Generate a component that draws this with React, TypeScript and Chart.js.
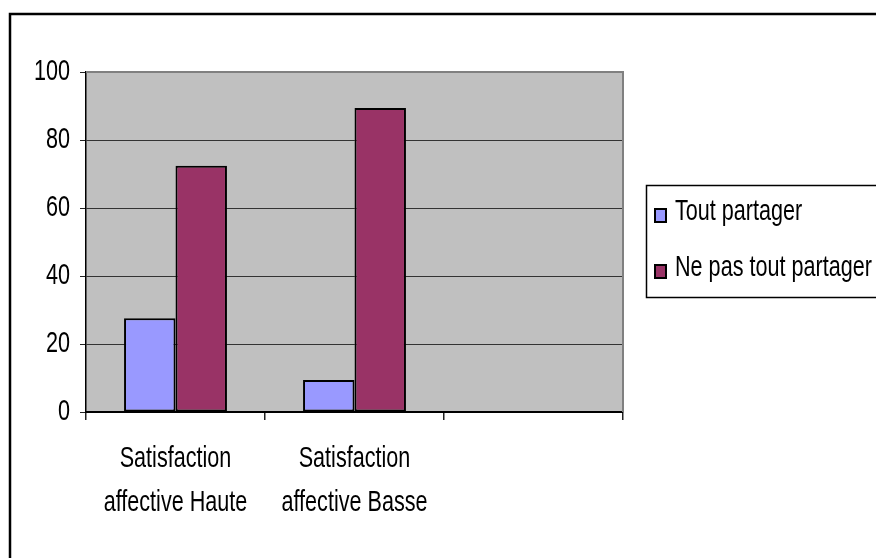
import React, { useEffect, useRef } from "react";
import { Chart, registerables } from "chart.js";

Chart.register(...registerables);

const categories: (string | string[])[] = [
  ["Satisfaction", "affective Haute"],
  ["Satisfaction", "affective Basse"],
  "",
];
const toutPartager = [27.6, 9.4, null];
const nePasToutPartager = [72.4, 89.4, null];
const yTicks = [0, 20, 40, 60, 80, 100];

const FONT = "'Liberation Sans', Arial, sans-serif";
// Narrow lettering: glyphs are squeezed horizontally around their anchor point.
const TEXT_SCALE_X = 0.72;

const narrowText = {
  id: "narrowText",
  beforeInit(chart: any) {
    const ctx = chart.ctx;
    if (ctx.__narrow) return;
    const orig = ctx.fillText.bind(ctx);
    ctx.fillText = (t: string, x: number, y: number, maxW?: number) => {
      ctx.save();
      ctx.translate(x, y);
      ctx.scale(TEXT_SCALE_X, 1);
      if (maxW === undefined) orig(t, 0, 0);
      else orig(t, 0, 0, maxW / TEXT_SCALE_X);
      ctx.restore();
    };
    ctx.__narrow = true;
  },
};

const frameAndPlot = {
  id: "frameAndPlot",
  beforeDraw(chart: any) {
    const { ctx, chartArea: a } = chart;
    ctx.save();
    ctx.fillStyle = "#ffffff";
    ctx.fillRect(0, 0, chart.width, chart.height);
    ctx.fillStyle = "#C0C0C0";
    ctx.fillRect(a.left, a.top, a.right - a.left, a.bottom - a.top);
    ctx.restore();
  },
  afterDatasetsDraw(chart: any) {
    const { ctx, chartArea: a } = chart;
    ctx.save();
    ctx.strokeStyle = "#808080";
    ctx.lineWidth = 2;
    ctx.beginPath();
    ctx.moveTo(a.left, a.top);
    ctx.lineTo(a.right, a.top);
    ctx.lineTo(a.right, a.bottom);
    ctx.stroke();
    ctx.restore();
  },
  afterDraw(chart: any) {
    const { ctx } = chart;
    ctx.save();
    ctx.strokeStyle = "#000";
    ctx.lineWidth = 2.5;
    ctx.strokeRect(10, 14, 1000, 1000);
    ctx.restore();
  },
};

const boxLegend = {
  id: "boxLegend",
  afterDraw(chart: any) {
    const { ctx } = chart;
    ctx.save();
    ctx.strokeStyle = "#000";
    ctx.lineWidth = 1.5;
    ctx.strokeRect(646.5, 185.5, 400, 112);
    ctx.font = `30px ${FONT}`;
    ctx.textBaseline = "middle";
    ctx.textAlign = "left";
    chart.data.datasets.forEach((ds: any, i: number) => {
      const y = 212 + i * 56;
      ctx.fillStyle = ds.backgroundColor;
      ctx.fillRect(655, y - 3, 11, 13);
      ctx.lineWidth = 2;
      ctx.strokeStyle = "#000";
      ctx.strokeRect(655, y - 3, 11, 13);
      ctx.fillStyle = "#000";
      ctx.fillText(ds.label, 675, y);
    });
    ctx.restore();
  },
};

export default function App() {
  const ref = useRef<HTMLCanvasElement>(null);

  useEffect(() => {
    if (!ref.current) return;
    const chart = new Chart(ref.current, {
      type: "bar",
      data: {
        labels: categories,
        datasets: [
          {
            label: "Tout partager",
            data: toutPartager,
            backgroundColor: "#9999FF",
            borderColor: "#000",
            borderWidth: 2,
            borderSkipped: false,
          },
          {
            label: "Ne pas tout partager",
            data: nePasToutPartager,
            backgroundColor: "#993366",
            borderColor: "#000",
            borderWidth: 2,
            borderSkipped: false,
          },
        ],
      },
      options: {
        responsive: false,
        animation: false,
        events: [],
        layout: { padding: { left: 0, top: 72, right: 253, bottom: 0 } },
        datasets: {
          bar: { barPercentage: 1, categoryPercentage: 0.575 },
        },
        plugins: {
          legend: { display: false },
          tooltip: { enabled: false },
        },
        scales: {
          x: {
            afterFit: (s: any) => {
              s.height = 146;
            },
            grid: {
              offset: true,
              drawOnChartArea: false,
              drawTicks: true,
              tickLength: 8,
              tickColor: "#222",
              lineWidth: 1.5,
            },
            border: { color: "#000", width: 2 },
            ticks: {
              color: "#000",
              padding: 17,
              maxRotation: 0,
              autoSkip: false,
              font: { family: FONT, size: 30, lineHeight: "44px" },
            },
          },
          y: {
            min: 0,
            max: 100,
            afterFit: (s: any) => {
              s.width = 86;
            },
            afterBuildTicks: (s: any) => {
              s.ticks = yTicks.map((v) => ({ value: v }));
            },
            grid: {
              color: (c: any) => (c.tick && c.tick.value === 100 ? "#808080" : "#333"),
              lineWidth: 1,
              tickLength: 6,
              tickColor: "#222",
            },
            border: { color: "#000", width: 1.5 },
            ticks: {
              color: "#000",
              padding: 10,
              font: { family: FONT, size: 30 },
            },
          },
        },
      },
      plugins: [narrowText, frameAndPlot, boxLegend],
    });
    return () => chart.destroy();
  }, []);

  return (
    <div style={{ position: "absolute", left: 0, top: 0 }}>
      <canvas ref={ref} width={876} height={558} style={{ display: "block" }} />
    </div>
  );
}
